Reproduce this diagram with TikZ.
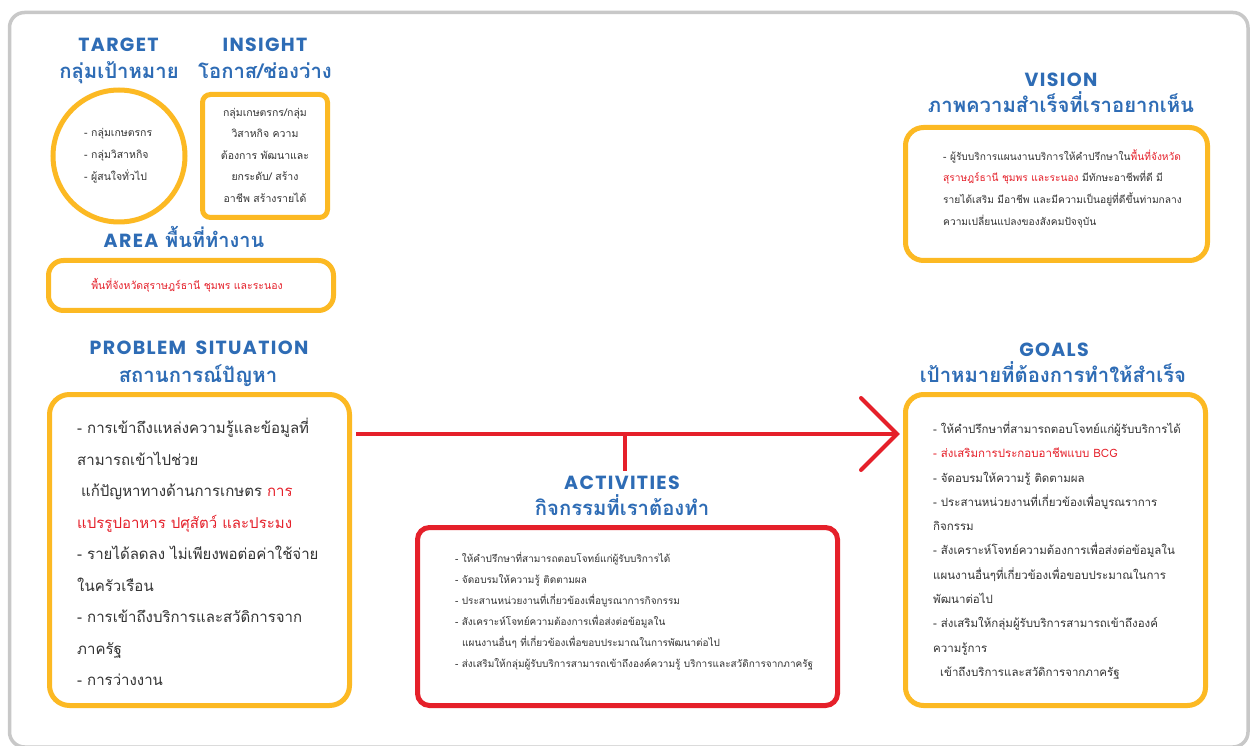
\documentclass[tikz,border=0pt]{standalone}
\usepackage{fontspec}
\setmainfont{Loma}[Script=Thai]
\newfontfamily\thaifont{Loma}[Script=Thai]
\newfontfamily\headfont{Poppins}[LetterSpace=7,WordSpace=1.8]
\usetikzlibrary{calc}
\definecolor{hblue}{RGB}{46,108,181}
\definecolor{oy}{RGB}{252,185,35}
\definecolor{rd}{RGB}{229,32,42}
\definecolor{tx}{RGB}{51,51,51}
\definecolor{fr}{RGB}{200,200,200}
\tikzset{
  headen/.style={text=hblue, inner sep=0, anchor=base, font=\headfont\bfseries\fontsize{19}{19}\selectfont},
  headth/.style={text=hblue, inner sep=0, anchor=base, font=\thaifont\bfseries\fontsize{20.3}{21}\selectfont},
  obox/.style={draw=oy, line width=5pt, inner sep=0, fill=none},
  rbox/.style={draw=rd, line width=5pt, inner sep=0, fill=none},
  body/.style={text=tx, inner sep=0, align=left, anchor=west},
  redline/.style={draw=rd, line width=4pt},
}
\begin{document}
\begin{tikzpicture}[x=1pt,y=-1pt]
\useasboundingbox (0,0) rectangle (1254,746);
\fill[white] (0,0) rectangle (1254,746);
% outer frame
\draw[fr, line width=3.5pt, rounded corners=15pt] (9.5,12.5) rectangle (1248,747);

% TARGET
\node[headen] (tgtA) at (118.5,52) {TARGET};
\node[headth] (tgtB) at (119,79) {กลุ่มเป้าหมาย};
\node[obox, circle, minimum size=132pt] (tgt) at (119,156) {};
\node[body, font=\fontsize{10.5}{22}\selectfont] (tgtT) at (84,156) {- กลุ่มเกษตรกร\\- กลุ่มวิสาหกิจ\\- ผู้สนใจทั่วไป};

% INSIGHT
\node[headen] (insA) at (265,52) {INSIGHT};
\node[headth] (insB) at (265,79) {โอกาส/ช่องว่าง};
\node[obox, rectangle, rounded corners=8pt, minimum width=125pt, minimum height=123pt] (ins) at (265,156) {};
\node[body, align=center, anchor=center, font=\fontsize{10.5}{21.5}\selectfont] (insT) at (265,155) {กลุ่มเกษตรกร/กลุ่ม\\วิสาหกิจ ความ\\ต้องการ พัฒนาและ\\ยกระดับ/ สร้าง\\อาชีพ สร้างรายได้};

% AREA
\node[text=hblue, inner sep=0, anchor=base, font=\fontsize{20}{20}\selectfont] (areaA) at (184,248) {{\headfont\bfseries\fontsize{19}{19}\selectfont AREA} {\thaifont\bfseries พื้นที่ทำงาน}};
\node[obox, rectangle, rounded corners=15pt, minimum width=285pt, minimum height=50pt] (area) at (191,285.5) {};
\node[text=rd, inner sep=0, font=\fontsize{10.5}{12}\selectfont] (areaT) at (187,285) {พื้นที่จังหวัดสุราษฎร์ธานี ชุมพร และระนอง};

% VISION
\node[headen] (visA) at (1061,87) {VISION};
\node[headth] (visB) at (1061,113) {ภาพความสำเร็จที่เราอยากเห็น};
\node[obox, rectangle, rounded corners=18pt, minimum width=302pt, minimum height=133pt] (vis) at (1056.5,194) {};
\node[body, font=\fontsize{10.2}{21.7}\selectfont] (visT) at (943,188.5) {- ผู้รับบริการแผนงานบริการให้คำปรึกษาใน{\color{rd}พื้นที่จังหวัด}\\{\color{rd}สุราษฎร์ธานี ชุมพร และระนอง} มีทักษะอาชีพที่ดี มี\\รายได้เสริม มีอาชีพ และมีความเป็นอยู่ที่ดีขึ้นท่ามกลาง\\ความเปลี่ยนแปลงของสังคมปัจจุบัน};

% PROBLEM
\node[headen] (prbA) at (199,355) {PROBLEM SITUATION};
\node[headth] (prbB) at (198,382) {สถานการณ์ปัญหา};
\node[obox, rectangle, rounded corners=20pt, minimum width=300pt, minimum height=311pt] (prb) at (199.5,550) {};
\node[body, font=\fontsize{15}{31.5}\selectfont] (prbT) at (77,552) {- การเข้าถึงแหล่งความรู้และข้อมูลที่\\สามารถเข้าไปช่วย\\\hspace*{4pt}แก้ปัญหาทางด้านการเกษตร {\color{rd}การ}\\{\color{rd}แปรรูปอาหาร ปศุสัตว์ และประมง}\\- รายได้ลดลง ไม่เพียงพอต่อค่าใช้จ่าย\\ในครัวเรือน\\- การเข้าถึงบริการและสวัดิการจาก\\ภาครัฐ\\- การว่างงาน};

% GOALS
\node[headen] (glA) at (1054,356) {GOALS};
\node[headth] (glB) at (1053,382) {เป้าหมายที่ต้องการทำให้สำเร็จ};
\node[obox, rectangle, rounded corners=18pt, minimum width=300pt, minimum height=311pt] (gl) at (1055.5,550) {};
\node[body, font=\fontsize{11.5}{24.3}\selectfont] (glT) at (933,550.5) {- ให้คำปรึกษาที่สามารถตอบโจทย์แก่ผู้รับบริการได้\\{\color{rd}- ส่งเสริมการประกอบอาชีพแบบ BCG}\\- จัดอบรมให้ความรู้ ติดตามผล\\- ประสานหน่วยงานที่เกี่ยวข้องเพื่อบูรณราการ\\กิจกรรม\\- สังเคราะห์โจทย์ความต้องการเพื่อส่งต่อข้อมูลใน\\แผนงานอื่นๆที่เกี่ยวข้องเพื่อขอบประมาณในการ\\พัฒนาต่อไป\\- ส่งเสริมให้กลุ่มผู้รับบริการสามารถเข้าถึงองค์\\ความรู้การ\\\hspace*{7pt}เข้าถึงบริการและสวัดิการจากภาครัฐ};

% ACTIVITIES
\node[headen] (actA) at (622,489) {ACTIVITIES};
\node[headth] (actB) at (622,515) {กิจกรรมที่เราต้องทำ};
\node[rbox, rectangle, rounded corners=12pt, minimum width=420pt, minimum height=178pt] (act) at (627.5,616.5) {};
\node[body, font=\fontsize{10}{21}\selectfont] (actT) at (455,611.5) {- ให้คำปรึกษาที่สามารถตอบโจทย์แก่ผู้รับบริการได้\\- จัดอบรมให้ความรู้ ติดตามผล\\- ประสานหน่วยงานที่เกี่ยวข้องเพื่อบูรณาการกิจกรรม\\- สังเคราะห์โจทย์ความต้องการเพื่อส่งต่อข้อมูลใน\\\hspace*{7pt}แผนงานอื่นๆ ที่เกี่ยวข้องเพื่อขอบประมาณในการพัฒนาต่อไป\\- ส่งเสริมให้กลุ่มผู้รับบริการสามารถเข้าถึงองค์ความรู้ บริการและสวัดิการจากภาครัฐ};

% connectors
\coordinate (ay) at (0,434);
\coordinate (tip) at ($(gl.west |- ay)+(-6,0)$);
\coordinate (stem) at (625,434);
\draw[redline] ($(prb.east |- ay)+(4,0)$) -- (tip);
\draw[redline, line cap=round, line join=miter] ($(tip)+(-36,-36)$) -- (tip) -- ($(tip)+(-36,36)$);
\draw[redline] (stem) -- ([yshift=4pt]stem |- actA.north);
\end{tikzpicture}
\end{document}
